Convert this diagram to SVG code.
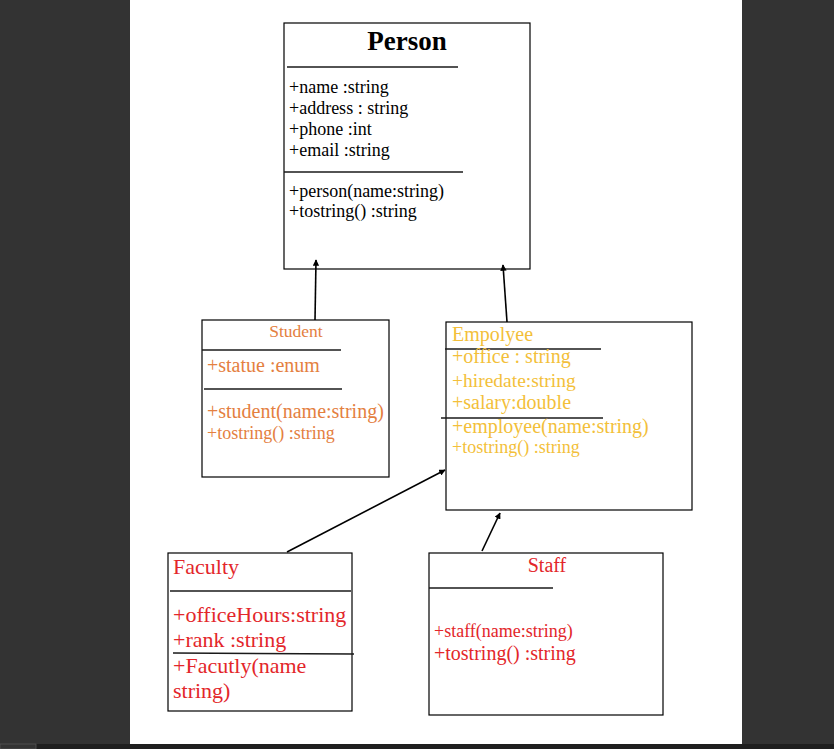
<svg xmlns="http://www.w3.org/2000/svg" width="834" height="749" viewBox="0 0 834 749">
<defs>
<style>
.box{fill:#fff;stroke:#000;stroke-width:1.2}
.sep{stroke:#1a1a1a;stroke-width:1.6}
text{font-family:"Liberation Serif","Times New Roman",serif}
.k{fill:#000}
.o{fill:#E4803F}
.y{fill:#F3BF3A}
.r{fill:#E3262A}
.con{stroke:#000;stroke-width:1.6;fill:none;marker-end:url(#ah)}
</style>
<marker id="ah" viewBox="0 0 10 10" refX="9" refY="5" markerWidth="4" markerHeight="4" orient="auto" markerUnits="strokeWidth">
<path d="M0,0 L10,5 L0,10 z" fill="#000"/>
</marker>
</defs>
<rect x="0" y="0" width="834" height="749" fill="#333333"/>
<rect x="130" y="0" width="612" height="744" fill="#ffffff"/>
<rect x="0" y="744" width="834" height="5" fill="#1f1f1f"/>
<rect x="0" y="744" width="36" height="5" fill="#333333" stroke="#555" stroke-width="0.8"/>

<g id="person">
<rect class="box" x="284" y="23" width="246" height="246"/>
<text class="k" x="407" y="50" font-size="27" font-weight="bold" text-anchor="middle">Person</text>
<line class="sep" x1="287" y1="67" x2="458" y2="67"/>
<text class="k" x="289" y="93" font-size="18">+name :string</text>
<text class="k" x="289" y="114" font-size="18">+address : string</text>
<text class="k" x="289" y="135" font-size="18">+phone :int</text>
<text class="k" x="289" y="156" font-size="18">+email :string</text>
<line class="sep" x1="284" y1="172" x2="463" y2="172"/>
<text class="k" x="289" y="197" font-size="18">+person(name:string)</text>
<text class="k" x="289" y="217" font-size="18">+tostring() :string</text>
</g>

<g id="student">
<rect class="box" x="202" y="320" width="187" height="157"/>
<text class="o" x="296" y="337" font-size="17.5" text-anchor="middle">Student</text>
<line class="sep" x1="202" y1="350" x2="341" y2="350"/>
<text class="o" x="207" y="372" font-size="20">+statue :enum</text>
<line class="sep" x1="204" y1="389" x2="342" y2="389"/>
<text class="o" x="207" y="418" font-size="20">+student(name:string)</text>
<text class="o" x="207" y="439" font-size="18">+tostring() :string</text>
</g>

<g id="employee">
<rect class="box" x="446" y="322" width="246" height="188"/>
<text class="y" x="452" y="341" font-size="20">Empolyee</text>
<line class="sep" x1="445" y1="349" x2="601" y2="349"/>
<text class="y" x="452" y="363" font-size="20">+office : string</text>
<text class="y" x="452" y="387" font-size="19.5">+hiredate:string</text>
<text class="y" x="452" y="409" font-size="20">+salary:double</text>
<line class="sep" x1="441" y1="418" x2="603" y2="418"/>
<text class="y" x="452" y="433" font-size="20">+employee(name:string)</text>
<text class="y" x="452" y="453" font-size="18">+tostring() :string</text>
</g>

<g id="faculty">
<rect class="box" x="168" y="553" width="184" height="158"/>
<text class="r" x="173" y="574" font-size="22">Faculty</text>
<line class="sep" x1="170" y1="591" x2="351" y2="591"/>
<text class="r" x="173" y="622" font-size="22">+officeHours:string</text>
<text class="r" x="173" y="647" font-size="22">+rank :string</text>
<line class="sep" x1="173" y1="653" x2="354" y2="654"/>
<text class="r" x="173" y="673" font-size="22">+Facutly(name</text>
<text class="r" x="173" y="698" font-size="22">string)</text>
</g>

<g id="staff">
<rect class="box" x="429" y="553" width="234" height="162"/>
<text class="r" x="547" y="572" font-size="20" text-anchor="middle">Staff</text>
<line class="sep" x1="429" y1="588" x2="553" y2="588"/>
<text class="r" x="434" y="637" font-size="18">+staff(name:string)</text>
<text class="r" x="434" y="660" font-size="20">+tostring() :string</text>
</g>

<g id="connectors">
<line class="con" x1="315" y1="320" x2="316" y2="260"/>
<line class="con" x1="507" y1="322" x2="503" y2="265"/>
<line class="con" x1="287" y1="552" x2="445" y2="470"/>
<line class="con" x1="482" y1="551" x2="500" y2="513"/>
</g>
</svg>
